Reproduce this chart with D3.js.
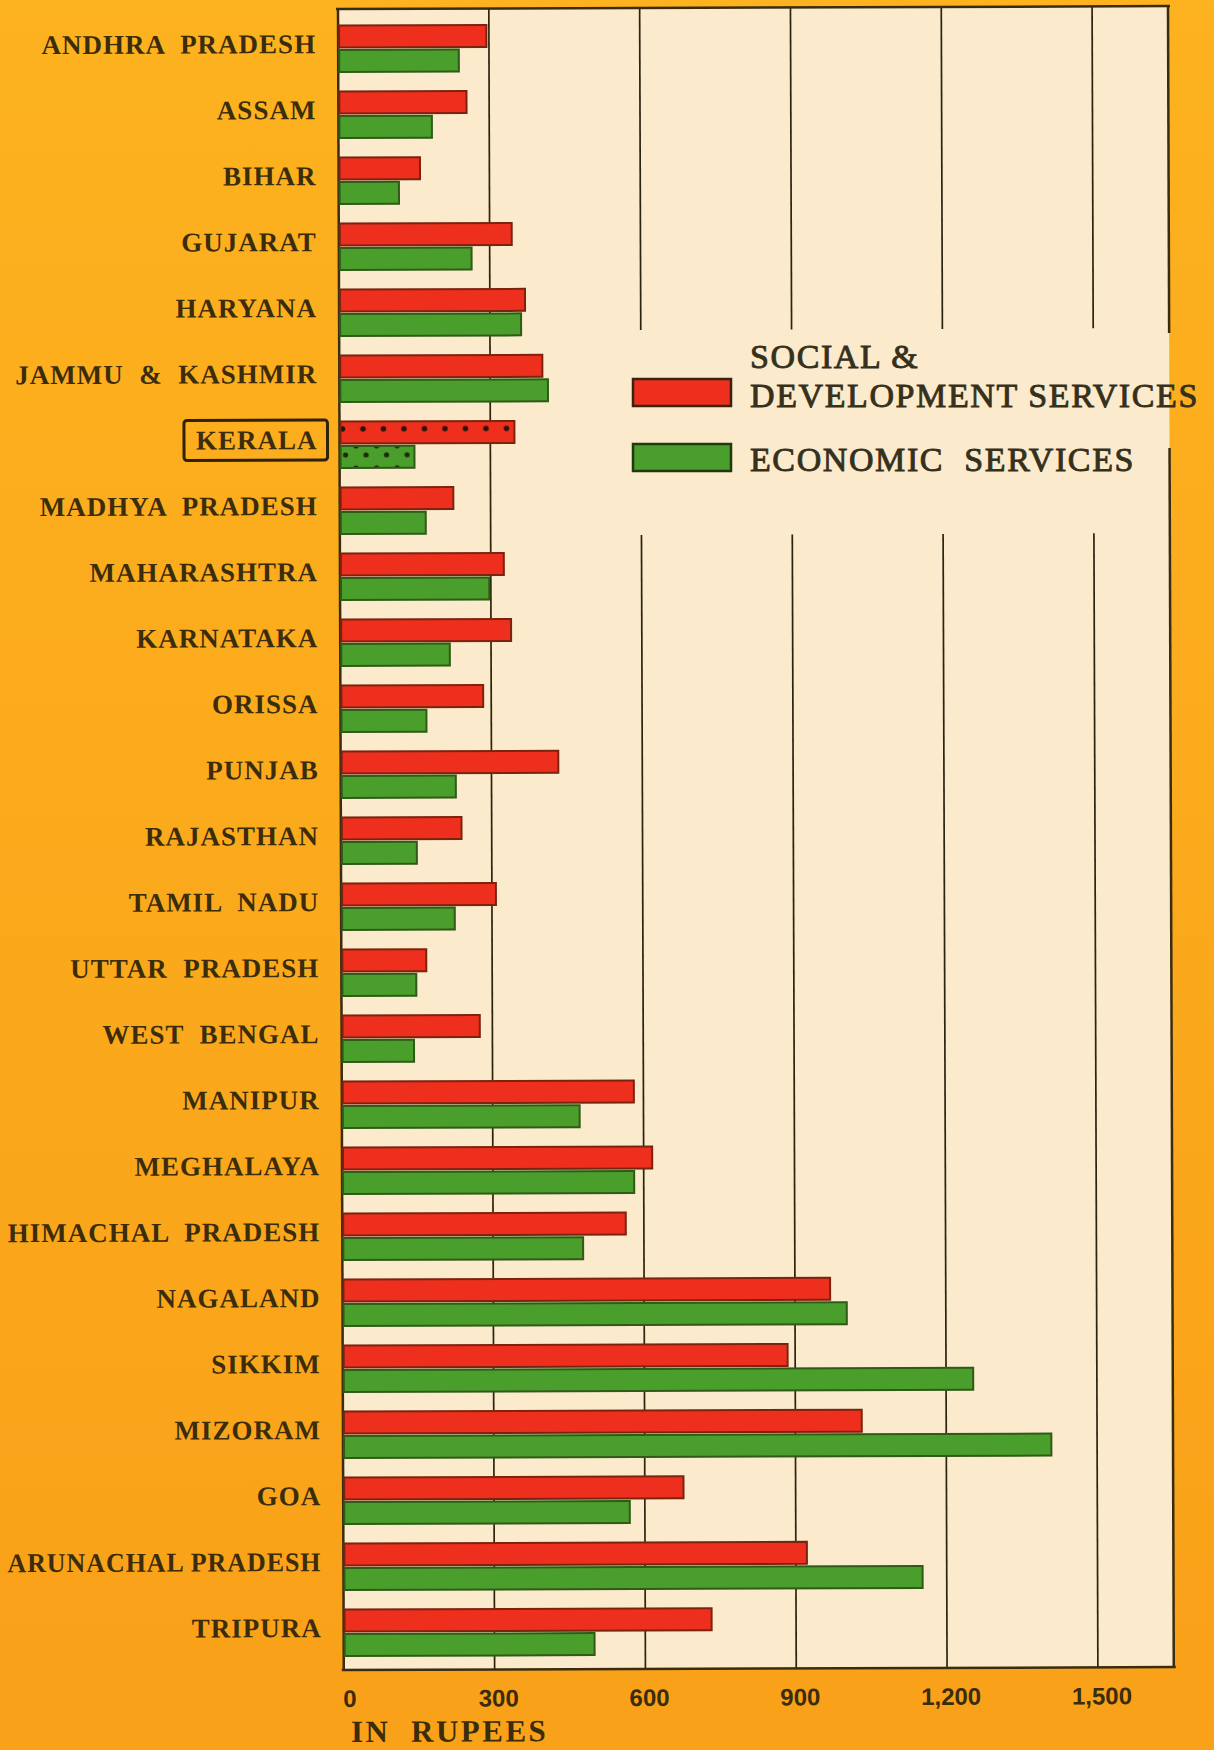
<!DOCTYPE html>
<html><head><meta charset="utf-8">
<script src="https://cdn.jsdelivr.net/npm/d3@7"></script>
<style>
html,body{margin:0;padding:0;background:#FBA81C;}
svg{display:block;}
text{white-space:pre;}
</style></head>
<body>
<svg id="chart" width="1214" height="1750"></svg>
<script>
const states = ["ANDHRA  PRADESH","ASSAM","BIHAR","GUJARAT","HARYANA","JAMMU  &  KASHMIR","KERALA","MADHYA  PRADESH","MAHARASHTRA","KARNATAKA","ORISSA","PUNJAB","RAJASTHAN","TAMIL  NADU","UTTAR  PRADESH","WEST  BENGAL","MANIPUR","MEGHALAYA","HIMACHAL  PRADESH","NAGALAND","SIKKIM","MIZORAM","GOA","ARUNACHAL PRADESH","TRIPURA"];
const socialDev = [295,255,162,344,370,404,348,226,326,340,284,433,240,308,169,275,581,617,564,970,885,1032,677,922,732];
const economic  = [240,186,120,264,362,415,149,171,297,218,171,229,151,226,149,144,473,581,479,1003,1254,1409,570,1152,499];
const tickValues = [0,300,600,900,1200,1500];
const tickLabels = ["0","300","600","900","1,200","1,500"];
const seriesNames = ["SOCIAL &","DEVELOPMENT SERVICES","ECONOMIC  SERVICES"];
const highlight = "KERALA";

(function(){
const svg = d3.select("#chart");
const RED = "#EE2F1D", GREEN = "#4A9E2B", INK = "#3B2C0B", CREAM = "#FBEACB";

const defs = svg.append("defs");
const bgGrad = defs.append("linearGradient").attr("id","bg").attr("x1",0).attr("y1",0).attr("x2",0).attr("y2",1);
bgGrad.append("stop").attr("offset","0%").attr("stop-color","#FDB21F");
bgGrad.append("stop").attr("offset","100%").attr("stop-color","#F9A119");
svg.append("rect").attr("width",1214).attr("height",1750).attr("fill","url(#bg)");

const pr = defs.append("pattern").attr("id","dotsRed").attr("patternUnits","userSpaceOnUse").attr("width",20.5).attr("height",22);
pr.append("rect").attr("width",20.5).attr("height",22).attr("fill",RED);
pr.append("circle").attr("cx",13).attr("cy",11).attr("r",2.8).attr("fill","#2a1408");
const pg = defs.append("pattern").attr("id","dotsGreen").attr("patternUnits","userSpaceOnUse").attr("width",20.5).attr("height",22);
pg.append("rect").attr("width",20.5).attr("height",22).attr("fill",GREEN);
pg.append("circle").attr("cx",6).attr("cy",6).attr("r",2.6).attr("fill","#1e2a0a");
pg.append("circle").attr("cx",16).attr("cy",15).attr("r",2.6).attr("fill","#1e2a0a");

const pLeft = 338, pRight = 1168, pTop = 9, pBottom = 1670;
const x = d3.scaleLinear().domain([0,1651]).range([pLeft,pRight]);
const y = d3.scaleBand().domain(states).range([11,1661]).padding(0);
const bw = y.bandwidth();

const g = svg.append("g").attr("transform",`rotate(-0.2, ${pLeft}, ${pTop})`);

g.append("rect").attr("x",pLeft).attr("y",pTop).attr("width",pRight-pLeft).attr("height",pBottom-pTop).attr("fill",CREAM);

const legTop = 331, legBot = 536;
tickValues.filter(v=>v>0).forEach(v=>{
  const gx = x(v);
  const segs = v>=600 ? [[pTop,legTop],[legBot,pBottom]] : [[pTop,pBottom]];
  segs.forEach(s=>{
    g.append("line").attr("x1",gx).attr("x2",gx).attr("y1",s[0]).attr("y2",s[1])
     .attr("stroke","#2b2410").attr("stroke-width",1.7);
  });
});

const frame = "#3a2c10";
g.append("line").attr("x1",pLeft-2).attr("x2",pRight+2).attr("y1",pTop).attr("y2",pTop).attr("stroke",frame).attr("stroke-width",2.5);
g.append("line").attr("x1",pLeft-2).attr("x2",pRight+2).attr("y1",pBottom).attr("y2",pBottom).attr("stroke",frame).attr("stroke-width",2.5);
g.append("line").attr("x1",pLeft).attr("x2",pLeft).attr("y1",pTop).attr("y2",pBottom).attr("stroke",frame).attr("stroke-width",2.5);
[[pTop,336],[451,pBottom]].forEach(s=>{
  g.append("line").attr("x1",pRight).attr("x2",pRight).attr("y1",s[0]).attr("y2",s[1]).attr("stroke",frame).attr("stroke-width",2.5);
});

const redOff = 14.5, greenOff = 39, bh = 22;
g.selectAll("rect.red").data(states).join("rect").attr("class","red")
  .attr("x",x(0)+1).attr("y",d=>y(d)+redOff).attr("height",bh)
  .attr("width",(d,i)=>x(socialDev[i])-x(0)-1)
  .attr("fill",d=>d===highlight?"url(#dotsRed)":RED)
  .attr("stroke","#7a2410").attr("stroke-width",2);
g.selectAll("rect.green").data(states).join("rect").attr("class","green")
  .attr("x",x(0)+1).attr("y",d=>y(d)+greenOff).attr("height",bh)
  .attr("width",(d,i)=>x(economic[i])-x(0)-1)
  .attr("fill",d=>d===highlight?"url(#dotsGreen)":GREEN)
  .attr("stroke","#2f5a17").attr("stroke-width",2);

const maxLabelW = 314;
g.selectAll("text.cat").data(states).join("text").attr("class","cat")
  .attr("x",pLeft-22).attr("y",d=>y(d)+bw/2+9)
  .attr("text-anchor","end")
  .attr("font-family","'Liberation Serif', serif").attr("font-weight","bold")
  .attr("font-size",27).attr("letter-spacing",1)
  .attr("fill",INK).text(d=>d)
  .each(function(){
    const w = this.getComputedTextLength();
    if (w > maxLabelW) d3.select(this).attr("textLength",maxLabelW).attr("lengthAdjust","spacingAndGlyphs");
  });

const kt = g.selectAll("text.cat").filter(d=>d===highlight).node().getBBox();
g.append("rect").attr("x",kt.x-12).attr("y",kt.y-5).attr("width",kt.width+22).attr("height",kt.height+10)
  .attr("rx",3).attr("fill","none").attr("stroke","#2e220a").attr("stroke-width",3);

g.selectAll("text.tick").data(tickValues).join("text").attr("class","tick")
  .attr("x",(d,i)=>x(d)+(i===0?6:4)).attr("y",pBottom+37)
  .attr("text-anchor","middle")
  .attr("font-family","'Liberation Sans Narrow','Liberation Sans',sans-serif").attr("font-weight","bold")
  .attr("font-size",24).attr("fill",INK)
  .text((d,i)=>tickLabels[i]);

g.append("text").attr("x",pLeft+7).attr("y",1742)
  .attr("font-family","'Liberation Serif', serif").attr("font-weight","bold")
  .attr("font-size",31).attr("letter-spacing",2.5).attr("fill",INK).text("IN  RUPEES");

const lg = svg.append("g");
lg.append("rect").attr("x",633).attr("y",379).attr("width",98).attr("height",27).attr("fill",RED).attr("stroke","#3a2410").attr("stroke-width",2.5);
lg.append("rect").attr("x",633).attr("y",444).attr("width",98).attr("height",27).attr("fill",GREEN).attr("stroke","#203a10").attr("stroke-width",2.5);
const legY = [368,407,471];
seriesNames.forEach((s,i)=>{
  lg.append("text").attr("x",750).attr("y",legY[i])
    .attr("font-family","'Liberation Serif', serif").attr("font-size",34).attr("letter-spacing",1.6)
    .attr("fill","#35301c").attr("stroke","#35301c").attr("stroke-width",0.9).text(s);
});
})();
</script>
</body></html>
